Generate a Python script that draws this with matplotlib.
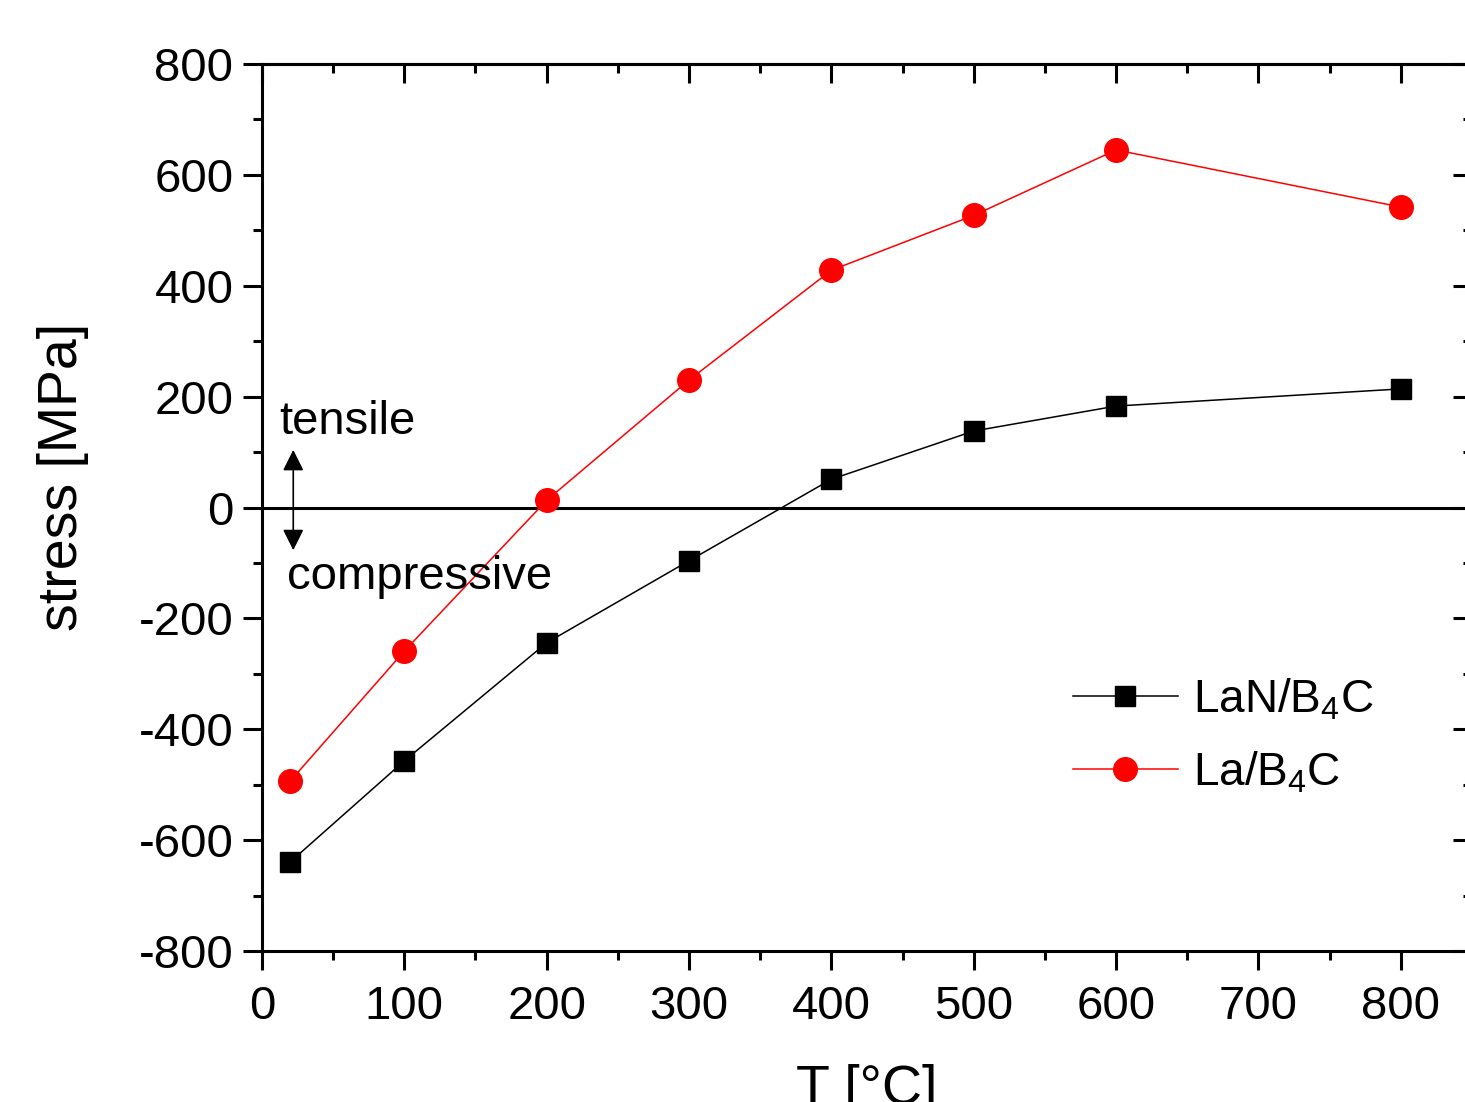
import matplotlib
matplotlib.use("Agg")
import matplotlib.pyplot as plt
from matplotlib.ticker import MultipleLocator

plt.rcParams["font.family"] = ["Liberation Sans", "DejaVu Sans"]
plt.rcParams["mathtext.fontset"] = "custom"
plt.rcParams["mathtext.rm"] = "Liberation Sans"
plt.rcParams["mathtext.it"] = "Liberation Sans"
plt.rcParams["mathtext.default"] = "regular"
plt.rcParams["axes.unicode_minus"] = False

# temperatures [°C]
temps = [20, 100, 200, 300, 400, 500, 600, 800]
# residual stress [MPa]
stress_lan = [-639, -457, -244, -96, 51, 138, 183, 214]
stress_la = [-493, -259, 13, 230, 428, 527, 645, 542]

label_lan = r"LaN/B$_4$C"
label_la = r"La/B$_4$C"

fig = plt.figure(figsize=(14.65, 11.02), dpi=100)
# right edge of the frame runs just past the figure border
ax = fig.add_axes([0.1788, 0.1370, 0.8260, 0.8049])

ax.plot(temps, stress_lan, color="black", lw=1.1, marker="s", ms=14.5,
        label=label_lan, zorder=3)
ax.plot(temps, stress_la, color="#ff0000", lw=1.1, marker="o", ms=17,
        label=label_la, zorder=3)
ax.axhline(0, color="black", lw=2.2, zorder=2)

ax.set_xlim(0, 850)
ax.set_ylim(-800, 800)
ax.xaxis.set_major_locator(MultipleLocator(100))
ax.xaxis.set_minor_locator(MultipleLocator(50))
ax.yaxis.set_major_locator(MultipleLocator(200))
ax.yaxis.set_minor_locator(MultipleLocator(100))

for sp in ax.spines.values():
    sp.set_linewidth(2.2)
ax.tick_params(which="both", direction="out", width=2.2, labelsize=34,
               top=False, right=False)
ax.tick_params(which="major", length=13.5)
ax.tick_params(axis="x", which="major", pad=11)
ax.tick_params(axis="y", which="major", pad=7)
ax.tick_params(which="minor", length=6.5)

# mirrored ticks on top and right point into the frame
top = ax.secondary_xaxis("top")
top.xaxis.set_major_locator(MultipleLocator(100))
top.xaxis.set_minor_locator(MultipleLocator(50))
top.tick_params(which="both", direction="in", width=2.2, labeltop=False)
top.tick_params(which="major", length=13.5)
top.tick_params(which="minor", length=6.5)
top.spines["top"].set_linewidth(2.2)

right = ax.secondary_yaxis("right")
right.yaxis.set_major_locator(MultipleLocator(200))
right.yaxis.set_minor_locator(MultipleLocator(100))
right.tick_params(which="both", direction="in", width=2.2, labelright=False)
right.tick_params(which="major", length=13.5)
right.tick_params(which="minor", length=6.5)
right.spines["right"].set_linewidth(2.2)

ax.set_xlabel("T [°C]", fontsize=40, labelpad=25)
ax.set_ylabel("stress [MPa]", fontsize=40)
ax.yaxis.set_label_coords(-0.143, 0.534)

# tensile / compressive markers around zero
arrow = dict(arrowstyle="-|>", color="black", lw=1.2,
             mutation_scale=32, shrinkA=0, shrinkB=0)
ax.annotate("", xy=(22, 104), xytext=(22, 2), arrowprops=arrow)
ax.annotate("", xy=(22, -77), xytext=(22, -2), arrowprops=arrow)
ax.text(12.5, 155, "tensile", fontsize=34, va="center", ha="left")
ax.text(17.5, -125, "compressive", fontsize=34, va="center", ha="left")

ax.legend(loc="upper left", bbox_to_anchor=(0.670, 0.309), frameon=False,
          fontsize=33, handlelength=2.3, handletextpad=0.33,
          labelspacing=0.6, borderpad=0, borderaxespad=0)

fig.savefig("out.png", dpi=100)
